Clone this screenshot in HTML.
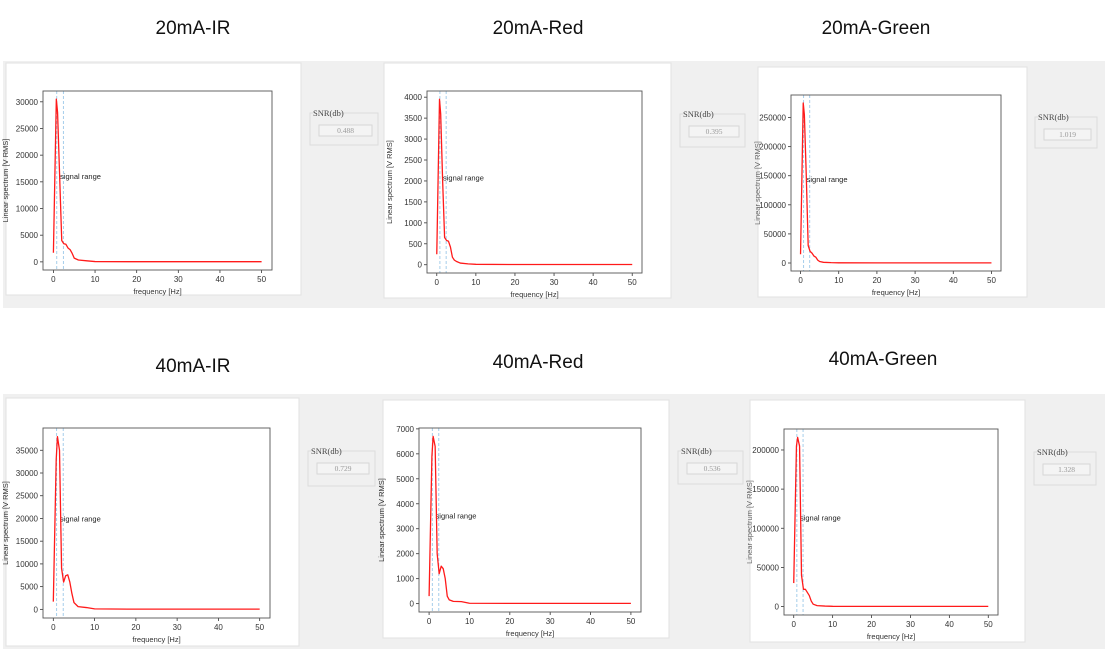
<!DOCTYPE html>
<html><head><meta charset="utf-8"><style>
html,body{margin:0;padding:0;background:#fff;}
svg{display:block;font-family:"Liberation Sans",sans-serif;}
</style></head><body>
<svg id="root" width="1112" height="661" viewBox="0 0 1112 661">
<rect x="3" y="61" width="1102" height="247" fill="#f0f0f0"/>
<rect x="3" y="394" width="1102" height="255" fill="#f0f0f0"/>
<g id="charts"></g>
</svg>
<script>
const freqs = [0,0.7,1.0,1.5,2.0,2.5,3.0,3.5,4.0,4.5,5.0,6.0,8.0,10,20,30,40,50];
const ir20 = [1700,30500,28000,16000,4000,3400,3300,2600,2300,1600,700,350,200,60,30,30,30,30];
const red20 = [250,3950,3600,2000,650,580,560,420,180,110,80,40,20,10,5,5,5,5];
const green20 = [15000,275000,255000,150000,30000,20000,17000,12000,10000,5000,2500,1200,600,300,200,200,200,200];
const ir40 = [1700,33000,38000,35000,9000,6000,7400,7600,6000,3500,1500,600,400,100,50,50,50,50];
const red40 = [300,5900,6700,6300,2000,1200,1500,1400,1000,300,150,90,80,15,10,10,10,10];
const green40 = [30000,205000,216000,205000,40000,22000,22000,18000,14000,7000,3000,1200,600,300,200,200,200,200];
const xTicks = [0,10,20,30,40,50];
const yTicksIr20 = [0,5000,10000,15000,20000,25000,30000];
const yTicksRed20 = [0,500,1000,1500,2000,2500,3000,3500,4000];
const yTicksGreen20 = [0,50000,100000,150000,200000,250000];
const yTicksIr40 = [0,5000,10000,15000,20000,25000,30000,35000];
const yTicksRed40 = [0,1000,2000,3000,4000,5000,6000,7000];
const yTicksGreen40 = [0,50000,100000,150000,200000];
const titles = ["20mA-IR","20mA-Red","20mA-Green","40mA-IR","40mA-Red","40mA-Green"];
const snrValues = ["0.488","0.395","1.019","0.729","0.536","1.328"];
const signalRange = [0.8, 2.4];

const NS="http://www.w3.org/2000/svg";
const root=document.getElementById('charts');
function mk(tag,attrs,parent){const e=document.createElementNS(NS,tag);for(const k in attrs)e.setAttribute(k,attrs[k]);(parent||root).appendChild(e);return e;}

const layouts=[
 {series:ir20,ticks:yTicksIr20,title:[193,27],white:[6,63,295,232],ax:[43,91,229,179],snr:[310,113,68,32],ylabel:true},
 {series:red20,ticks:yTicksRed20,title:[538,27],white:[384,63,287,235],ax:[427,91,215,182],snr:[680,114,65,33],ylabel:true},
 {series:green20,ticks:yTicksGreen20,title:[876,27],white:[758,67,269,230],ax:[791,95,210,176],snr:[1035,117,62,31],ylabel:false},
 {series:ir40,ticks:yTicksIr40,title:[193,365],white:[6,398,293,248],ax:[43,428,227,190],snr:[308,451,67,35],ylabel:true},
 {series:red40,ticks:yTicksRed40,title:[538,361],white:[383,400,286,238],ax:[419,428,222,184],snr:[678,451,65,33],ylabel:true},
 {series:green40,ticks:yTicksGreen40,title:[883,358],white:[750,400,275,242],ax:[784,429,214,186],snr:[1034,452,62,33],ylabel:false}
];

layouts.forEach((L,i)=>{
 const g=mk('g',{});
 
 
 const t=mk('text',{x:L.title[0],y:L.title[1]+7,'text-anchor':'middle','font-size':19,fill:'#111'},g);
 t.textContent=titles[i];
 
 
 const w=mk('rect',{x:L.white[0],y:L.white[1],width:L.white[2],height:L.white[3],fill:'#fff',stroke:'#e2e2e2'},g);
 
 
 const [ax,ay,aw,ah]=L.ax;
 const s=L.series;
 const mn=Math.min(...s,0), mx=Math.max(...s);
 const ymin=mn-0.05*(mx-mn), ymax=mx+0.05*(mx-mn);
 const X=v=>ax+(v+2.5)/55*aw;
 const Y=v=>ay+ah-(v-ymin)/(ymax-ymin)*ah;
 xTicks.forEach(v=>{
  mk('line',{x1:X(v),x2:X(v),y1:ay+ah,y2:ay+ah+3,stroke:'#333','stroke-width':0.8},g);
  const tt=mk('text',{x:X(v),y:ay+ah+12,'text-anchor':'middle','font-size':8,fill:'#333'},g);
  tt.textContent=v;
  
  
 });
 L.ticks.forEach(v=>{
  mk('line',{x1:ax-3,x2:ax,y1:Y(v),y2:Y(v),stroke:'#333','stroke-width':0.8},g);
  const tt=mk('text',{x:ax-5,y:Y(v)+3,'text-anchor':'end','font-size':8,fill:'#333'},g);
  tt.textContent=v;
  
  
 });
 const xl=mk('text',{x:ax+aw/2,y:ay+ah+24,'text-anchor':'middle','font-size':7.5,fill:'#333'},g);
 xl.textContent='frequency [Hz]';
 
 
 const ylx = L.ylabel ? ax-35 : L.white[0]+2;
 const yl=mk('text',{x:0,y:0,'text-anchor':'middle','font-size':7.5,fill:L.ylabel?'#333':'#666',transform:`translate(${ylx},${ay+ah/2}) rotate(-90)`},g);
 yl.textContent='Linear spectrum [V RMS]';
 
 
 signalRange.forEach(v=>{
  const l=mk('line',{x1:X(v),x2:X(v),y1:ay,y2:ay+ah,stroke:'#9cc8e8','stroke-width':0.9,'stroke-dasharray':'3,2'},g);
  
  
 });
 const sr=mk('text',{x:X(1.6),y:Y(0.52*mx)+2,'font-size':7.5,fill:'#222'},g);
 sr.textContent='signal range';
 
 
 const p=mk('polyline',{points:freqs.map((f,k)=>X(f)+','+Y(s[k])).join(' '),fill:'none',stroke:'#ff1a1a','stroke-width':1.3,'stroke-linejoin':'round'},g);
 
 
 const fr=mk('rect',{x:ax,y:ay,width:aw,height:ah,fill:'none',stroke:'#555','stroke-width':0.9},g);
 
 
 const [sx,sy,sw,sh]=L.snr;
 const sb=mk('rect',{x:sx,y:sy,width:sw,height:sh,fill:'#f0f0f0',stroke:'#dcdcdc'},g);
 
 
 mk('rect',{x:sx+3,y:sy-5,width:28,height:9,fill:'#f0f0f0'},g);
 const sl=mk('text',{x:sx+3,y:sy+3,'font-size':8.5,fill:'#444','font-family':'"Liberation Serif",serif'},g);
 sl.textContent='SNR(db)';
 
 
 const ib=mk('rect',{x:sx+9,y:sy+12,width:sw-15,height:11,fill:'#f4f4f4',stroke:'#d6d6d6'},g);
 
 
 const iv=mk('text',{x:sx+9+(sw-15)/2,y:sy+20,'text-anchor':'middle','font-size':7.5,fill:'#999','font-family':'"Liberation Serif",serif'},g);
 iv.textContent=snrValues[i];
 
 
});
</script>
</body></html>
